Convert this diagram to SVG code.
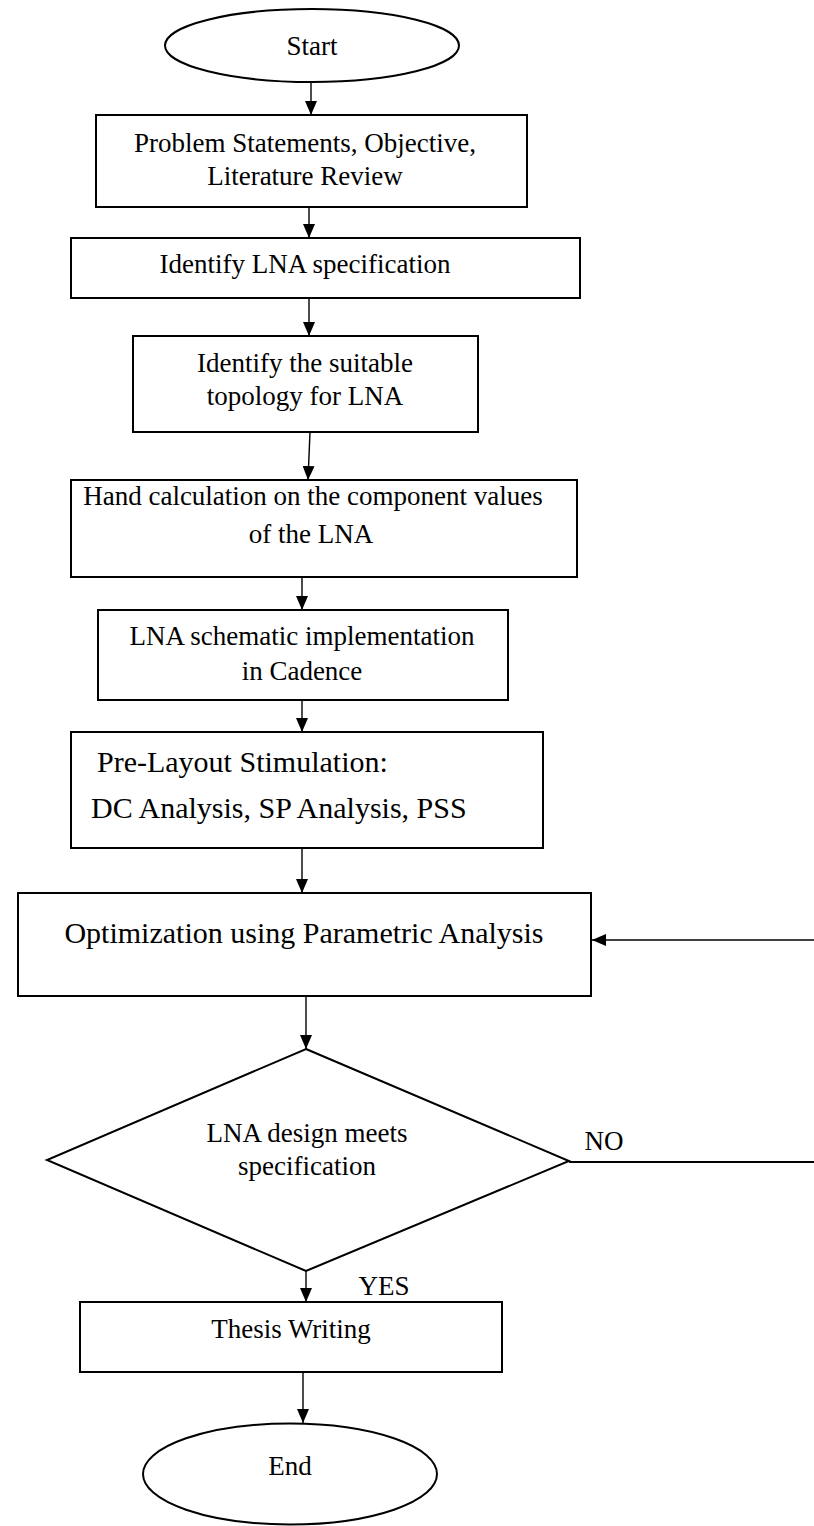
<svg xmlns="http://www.w3.org/2000/svg" width="814" height="1526" viewBox="0 0 814 1526">
<style>
.s{fill:#fff;stroke:#000;stroke-width:2}
.t{font-family:"Liberation Serif","Times New Roman",serif;font-size:27px;fill:#000;text-anchor:middle}
.b{font-size:30px}
.l{text-anchor:start}
.c{stroke:#000;stroke-width:1.4;fill:none}
</style>
<defs>
<marker id="ah" viewBox="0 0 14 12" refX="14" refY="6" markerWidth="14" markerHeight="12" markerUnits="userSpaceOnUse" orient="auto">
<path d="M0,0 L14,6 L0,12 Z" fill="#000"/>
</marker>
</defs>
<rect width="814" height="1526" fill="#fff"/>
<g id="connectors">
<line class="c" x1="311" y1="82" x2="311" y2="115" marker-end="url(#ah)"/>
<line class="c" x1="309" y1="207" x2="309" y2="238" marker-end="url(#ah)"/>
<line class="c" x1="309" y1="298" x2="309" y2="336" marker-end="url(#ah)"/>
<line class="c" x1="310" y1="432" x2="308" y2="480" marker-end="url(#ah)"/>
<line class="c" x1="302" y1="577" x2="302" y2="610" marker-end="url(#ah)"/>
<line class="c" x1="302" y1="700" x2="302" y2="732" marker-end="url(#ah)"/>
<line class="c" x1="302" y1="848" x2="302" y2="893" marker-end="url(#ah)"/>
<line class="c" x1="306" y1="996" x2="306" y2="1049" marker-end="url(#ah)"/>
<line class="c" x1="306" y1="1271" x2="306" y2="1302" marker-end="url(#ah)"/>
<line class="c" x1="303" y1="1372" x2="303" y2="1423" marker-end="url(#ah)"/>
<line class="c" x1="814" y1="940" x2="592" y2="940" marker-end="url(#ah)"/>
<line class="c" x1="569" y1="1162" x2="814" y2="1162" style="stroke-width:2"/>
<text class="t" x="604" y="1150">NO</text>
<text class="t" x="384" y="1295">YES</text>
</g>
<g id="start">
<ellipse class="s" cx="312" cy="45.5" rx="147" ry="36.5"/>
<text class="t" x="312" y="55">Start</text>
</g>
<g id="problem">
<rect class="s" x="96" y="115" width="431" height="92"/>
<text class="t" x="305" y="152">Problem Statements, Objective,</text>
<text class="t" x="305" y="185">Literature Review</text>
</g>
<g id="spec">
<rect class="s" x="71" y="238" width="509" height="60"/>
<text class="t" x="305" y="273">Identify LNA specification</text>
</g>
<g id="topology">
<rect class="s" x="133" y="336" width="345" height="96"/>
<text class="t" x="305" y="372">Identify the suitable</text>
<text class="t" x="305" y="405">topology for LNA</text>
</g>
<g id="handcalc">
<rect class="s" x="71" y="480" width="506" height="97"/>
<text class="t" x="313" y="505">Hand calculation on the component values</text>
<text class="t" x="311" y="543">of the LNA</text>
</g>
<g id="schematic">
<rect class="s" x="98" y="610" width="410" height="90"/>
<text class="t" x="302" y="645">LNA schematic implementation</text>
<text class="t" x="302" y="680">in Cadence</text>
</g>
<g id="prelayout">
<rect class="s" x="71" y="732" width="472" height="116"/>
<text class="t b l" x="97" y="772">Pre-Layout Stimulation:</text>
<text class="t b l" x="91" y="818">DC Analysis, SP Analysis, PSS</text>
</g>
<g id="optimization">
<rect class="s" x="18" y="893" width="573" height="103"/>
<text class="t b" x="304" y="943">Optimization using Parametric Analysis</text>
</g>
<g id="decision">
<polygon class="s" points="306,1049 569,1161 306,1271 47,1160"/>
<text class="t" x="307" y="1142">LNA design meets</text>
<text class="t" x="307" y="1175">specification</text>
</g>
<g id="thesis">
<rect class="s" x="80" y="1302" width="422" height="70"/>
<text class="t" x="291" y="1338">Thesis Writing</text>
</g>
<g id="end">
<ellipse class="s" cx="290" cy="1474" rx="147" ry="50.5"/>
<text class="t" x="290" y="1475">End</text>
</g>
</svg>
